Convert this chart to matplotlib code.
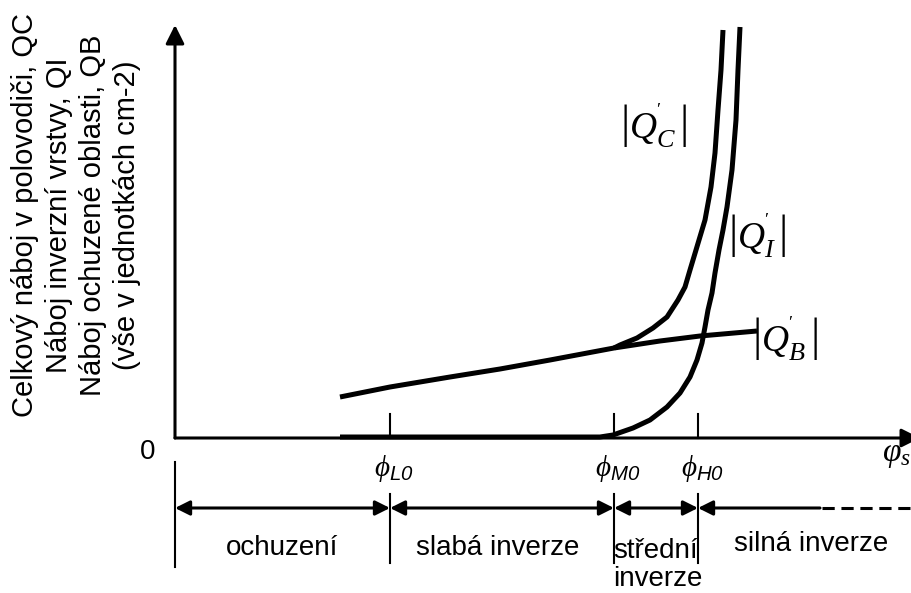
import numpy as np
import matplotlib
matplotlib.use('Agg')
import matplotlib.pyplot as plt

plt.rcParams['font.family'] = ['Liberation Sans', 'DejaVu Sans']
plt.rcParams['mathtext.fontset'] = 'custom'
plt.rcParams['mathtext.rm'] = 'Liberation Serif'
plt.rcParams['mathtext.it'] = 'Liberation Serif:italic'
plt.rcParams['mathtext.sf'] = 'Liberation Sans:italic'

# surface potential (arbitrary units) and charge magnitudes
phi_B = [1.65, 2.15, 2.75, 3.25, 3.75, 4.39, 4.85, 5.25, 5.82]
Q_B = [0.41, 0.51, 0.61, 0.69, 0.78, 0.90, 0.97, 1.02, 1.07]

phi_I = [1.65, 2.75, 3.75, 4.25, 4.38, 4.58, 4.75, 4.92, 5.05, 5.15, 5.22,
         5.27, 5.30, 5.33, 5.37, 5.40, 5.44, 5.48, 5.52, 5.57, 5.61, 5.63, 5.65]
Q_I = [0.01, 0.01, 0.01, 0.01, 0.03, 0.10, 0.18, 0.31, 0.45, 0.61, 0.78,
       0.95, 1.11, 1.28, 1.45, 1.65, 1.88, 2.08, 2.31, 2.68, 3.18, 3.68, 4.11]

phi_C = [4.39, 4.45, 4.62, 4.78, 4.92, 5.03, 5.10, 5.15, 5.21, 5.30, 5.36,
         5.40, 5.43, 5.46, 5.48]
Q_C = [0.90, 0.93, 1.00, 1.10, 1.21, 1.38, 1.51, 1.68, 1.88, 2.18, 2.51,
       2.85, 3.28, 3.68, 4.08]

# characteristic potentials and region names
phi_marks = [2.15, 4.39, 5.23]
mark_names = [r'$\phi_{\mathsf{L0}}$', r'$\phi_{\mathsf{M0}}$', r'$\phi_{\mathsf{H0}}$']
regions = ['ochuzení', 'slabá inverze', 'střední\ninverze', 'silná inverze']

fig = plt.figure(figsize=(9.12, 5.93), dpi=100)
ax = fig.add_axes([0, 0, 1, 1])
ax.set_xlim(-1.75, 7.37)
ax.set_ylim(-1.55, 4.38)
ax.axis('off')

fs = 20
k = 'black'

# axes with arrow heads
ax.annotate('', xy=(0, 4.13), xytext=(0, 0),
            arrowprops=dict(arrowstyle='-|>', lw=2.2, color=k, mutation_scale=28,
                            shrinkA=0, shrinkB=0))
ax.annotate('', xy=(7.45, 0), xytext=(0, 0), annotation_clip=False,
            arrowprops=dict(arrowstyle='-|>', lw=2.2, color=k, mutation_scale=28,
                            shrinkA=0, shrinkB=0))

# charge curves
for xs, ys in [(phi_B, Q_B), (phi_I, Q_I), (phi_C, Q_C)]:
    ax.plot(xs, ys, color=k, lw=3.6, solid_joinstyle='round', solid_capstyle='butt')

qfmt = r"$\left|Q{}^{'}_{%s}\,\right|$"
ax.text(4.79, 3.12, qfmt % 'C', fontsize=27, ha='center', va='center')
ax.text(5.82, 2.02, qfmt % 'I', fontsize=27, ha='center', va='center')
ax.text(6.10, 0.99, qfmt % 'B', fontsize=27, ha='center', va='center')

# tick marks at the characteristic potentials
for p, name in zip(phi_marks, mark_names):
    ax.plot([p, p], [0, 0.24], color=k, lw=1.5)
    ax.text(p + 0.04, -0.30, name, fontsize=fs + 1, ha='center', va='center')

ax.text(-0.27, -0.14, '0', fontsize=fs, ha='center', va='center')
ax.text(7.36, -0.17, r'$\varphi_{s}$', fontsize=fs + 4, ha='right', va='center')

ax.text(-0.99, 2.23,
        'Celkový náboj v polovodiči, QC\nNáboj inverzní vrstvy, QI\n'
        'Náboj ochuzené oblasti, QB\n(vše v jednotkách cm-2)',
        fontsize=fs + 1, rotation=90, ha='center', va='center', linespacing=1.28,
        multialignment='center')

# region brackets below the axis
y_arr = -0.70
ax.plot([0, 0], [-0.24, -1.29], color=k, lw=1.5)
for p in phi_marks:
    ax.plot([p, p], [-0.56, -1.25], color=k, lw=1.5)

bounds = [0] + phi_marks
for a, b in zip(bounds[:-1], bounds[1:]):
    ax.annotate('', xy=(b, y_arr), xytext=(a, y_arr),
                arrowprops=dict(arrowstyle='<|-|>', lw=2.2, color=k, mutation_scale=22,
                                shrinkA=0, shrinkB=0))
ax.annotate('', xy=(6.45, y_arr), xytext=(phi_marks[-1], y_arr),
            arrowprops=dict(arrowstyle='<|-', lw=2.2, color=k, mutation_scale=22,
                            shrinkA=0, shrinkB=0))
ax.plot([6.47, 7.37], [y_arr, y_arr], color=k, lw=2.2, ls=(0, (4, 2.2)))

ax.text(1.07, -1.10, regions[0], fontsize=fs, ha='center', va='center')
ax.text(3.23, -1.10, regions[1], fontsize=fs, ha='center', va='center')
ax.text(4.38, -1.27, regions[2], fontsize=fs, ha='left', va='center', linespacing=1.05)
ax.text(6.36, -1.06, regions[3], fontsize=fs, ha='center', va='center')

plt.savefig('out.png', dpi=100)
